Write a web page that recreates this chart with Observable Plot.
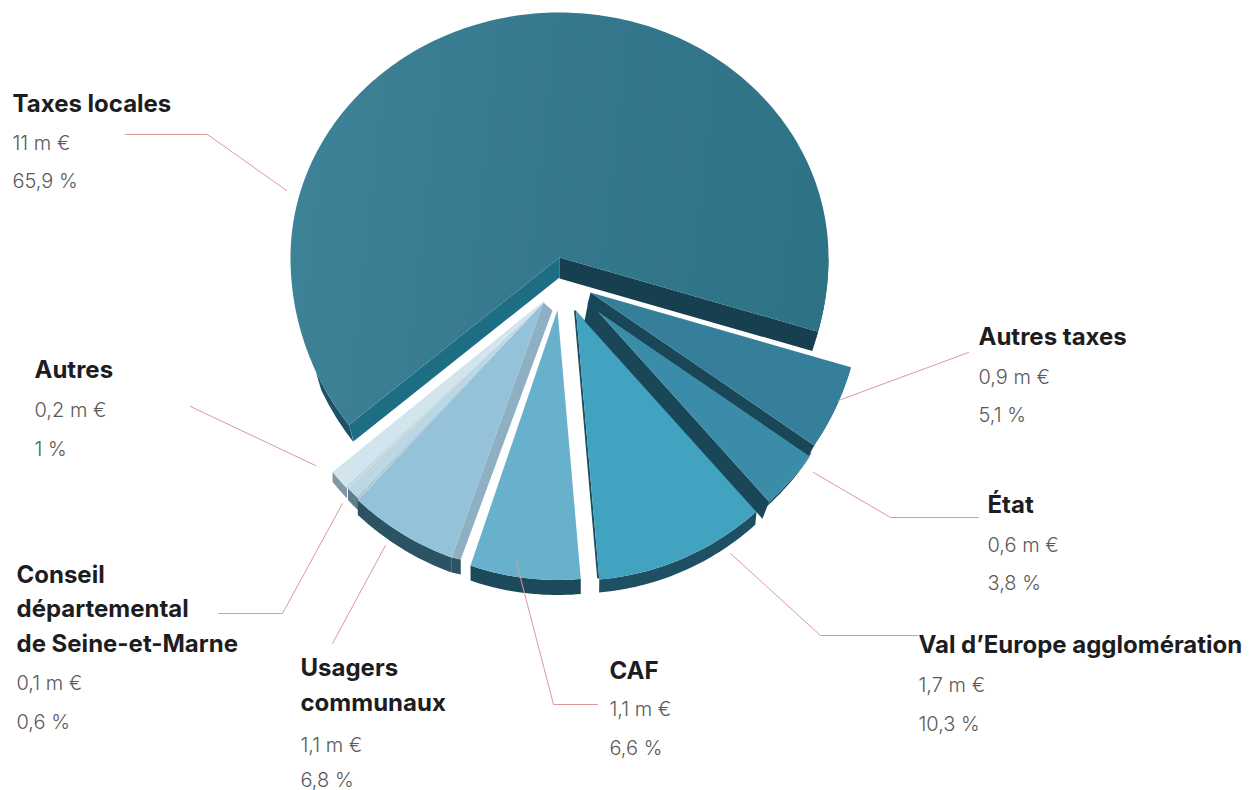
<!DOCTYPE html>
<html lang="fr">
<head>
<meta charset="utf-8">
<script src="https://cdn.jsdelivr.net/npm/d3@7"></script>
<script src="https://cdn.jsdelivr.net/npm/@observablehq/plot@0.6"></script>
<style>
html,body{margin:0;padding:0;background:#fff}
svg{display:block}
</style>
</head>
<body>
<div id="chart"></div>
<script>
// ---- data ----
const names   = ["Taxes locales","Autres taxes","État","Val d’Europe agglomération","CAF","Usagers communaux","Conseil départemental de Seine-et-Marne","Autres"];
const shares  = [65.9,5.1,3.8,10.3,6.6,6.8,0.6,1];
const amounts = ["11 m €","0,9 m €","0,6 m €","1,7 m €","1,1 m €","1,1 m €","0,1 m €","0,2 m €"];
const percents= ["65,9 %","5,1 %","3,8 %","10,3 %","6,6 %","6,8 %","0,6 %","1 %"];
const nameLines = [["Taxes locales"],["Autres taxes"],["État"],["Val d’Europe agglomération"],["CAF"],["Usagers","communaux"],["Conseil","départemental","de Seine-et-Marne"],["Autres"]];

// ---- layout and style, kept apart from the values ----
const rad = d => d * Math.PI / 180;
const pieStart = 139;
const slices = [
  {cx:559,cy:257,r:269,rTop:245,da0:2.5,da1:0,top:"url(#mainGrad)",outer:"#1b5265",depth:21,shrink:6,rimFrom:155,
   edges:[{side:0,fill:"#1d6e85",dx:0,dy:20},{side:1,fill:"#173f4f",dx:0,dy:21}]},
  {cx:590,cy:292,r:271,rTop:271,da0:0,da1:0,top:"#357f9b",outer:"#28627a",depth:5,shrink:3,
   edges:[{side:1,fill:"#1a4757",dx:-3,dy:12}]},
  {cx:588,cy:300.5,r:270,rTop:270,da0:0,da1:0,top:"#3a8ca9",outer:"#1f5064",depth:8,shrink:4,
   edges:[{side:1,fill:"#1a4757",dx:-4,dy:20}]},
  {cx:575.5,cy:310,r:270,rTop:270,da0:0,da1:0,top:"#42a3c1",outer:"#1f4f62",depth:15,shrink:2,
   edges:[{side:1,fill:"#1d4d60",dx:-2,dy:0}]},
  {cx:557,cy:309.5,r:270,rTop:270,da0:0,da1:0,top:"#67b1cd",outer:"#1d4a5b",depth:15,shrink:0,edges:[]},
  {cx:543,cy:302,r:271,rTop:271,da0:1,da1:0,top:"#94c2d9",outer:"#2b5364",depth:15,shrink:0,edges:[],
   quad:{fill:"#8fafc3",apexDx:9,apexDy:8,outerDx:9,outerDy:2}},
  {cx:544.5,cy:300,r:272,rTop:272,da0:0,da1:1,top:"#bcd7e4",outer:"#5f7d8b",depth:12,shrink:0,edges:[],band:{deg:0.5,fill:"#a9c7d6"}},
  {cx:545,cy:299,r:274,rTop:274,da0:1,da1:2,top:"#d2e4ec",outer:"#8098a4",depth:10,shrink:0,edges:[],band:{deg:0.4,fill:"#b7d0dc"}}
];
// drawing order: main, then lit left wedges, then the right wedges back to front
const drawOrder = [0,7,6,5,4,3,2,1];

const labelPlaces = [
  {x:12,  y:[111],          ya:149, yp:187},
  {x:978, y:[344],          ya:383, yp:421},
  {x:987, y:[512],          ya:551, yp:589},
  {x:918, y:[652],          ya:691, yp:730},
  {x:609, y:[678],          ya:715, yp:754},
  {x:300, y:[675,710],      ya:751, yp:786},
  {x:16,  y:[582,616,651],  ya:689, yp:728},
  {x:34,  y:[377],          ya:416, yp:455}
];
const leaders = [
  [[125,134],[207,134],[286,190]],
  [[838,400],[968,352]],
  [[813,472],[890,517],[978,517]],
  [[730,553],[820,635],[917,635]],
  [[516,562],[553,704],[597,704]],
  [[385,545],[332,643]],
  [[342,503],[282,613],[218,613]],
  [[190,406],[315,465]]
];

// ---- geometry from the shares ----
const arcs = d3.pie().sort(null).value(d => d)
  .startAngle(rad(pieStart)).endAngle(rad(pieStart + 360))(shares);

const rows = [];
function add(id, fill, pts){ pts.forEach(([x,y]) => rows.push({id, fill, x, y})); }

function point(s, a, down = 0, shrink = 0, dx = 0){
  const c = Math.cos(a), n = Math.sin(a);
  const ry = n < 0 ? s.rTop : s.r;
  return [s.cx + dx + (s.r - shrink) * c, s.cy + down + (ry - shrink) * n];
}
function arcPts(s, a0, a1, down = 0, shrink = 0){
  const k = Math.max(2, Math.ceil(Math.abs(a1 - a0) / rad(1)));
  return d3.range(k + 1).map(i => point(s, a0 + (a1 - a0) * i / k, down, shrink));
}
drawOrder.forEach(i => {
  const s = slices[i];
  const a0 = arcs[i].startAngle + rad(s.da0), a1 = arcs[i].endAngle + rad(s.da1);
  const id = names[i];
  // outer rim: only the parts of the arc facing the viewer
  const lim = [];
  for (let t = 0; t <= 4 * Math.PI; t += 2 * Math.PI){
    const lo = Math.max(a0, t), hi = Math.min(a1, t + (t === 0 && s.rimFrom ? rad(s.rimFrom) : Math.PI));
    if (hi > lo) lim.push([lo, hi]);
  }
  lim.forEach(([lo, hi], j) => {
    add(`${id} rim ${j}`, s.outer, [...arcPts(s, lo, hi), ...arcPts(s, hi, lo, s.depth, s.shrink)]);
  });
  // radial walls
  s.edges.forEach(e => {
    const a = e.side ? a1 : a0;
    add(`${id} edge ${e.side}`, e.fill, [
      [s.cx, s.cy], point(s, a),
      point(s, a, e.dy, s.shrink, e.dx), [s.cx + e.dx, s.cy + e.dy]
    ]);
  });
  // top face
  let faceStart = a0;
  if (s.band){
    add(`${id} band`, s.band.fill, [[s.cx, s.cy], ...arcPts(s, a0, a0 + rad(s.band.deg))]);
    faceStart = a0 + rad(s.band.deg);
  }
  if (s.quad){
    const q = s.quad, [ox, oy] = point(s, a0);
    add(`${id} quad rim`, s.outer, [[ox, oy], [ox + q.outerDx, oy + q.outerDy], [ox + q.outerDx, oy + q.outerDy + s.depth], [ox, oy + s.depth]]);
    add(`${id} quad`, q.fill, [[s.cx, s.cy], [s.cx + q.apexDx, s.cy + q.apexDy], [ox + q.outerDx, oy + q.outerDy], [ox, oy]]);
  }
  add(`${id} top`, s.top, [[s.cx, s.cy], ...arcPts(s, faceStart, a1)]);
});

const leaderRows = leaders.flatMap((l, i) => l.map(([x, y]) => ({id: names[i], x, y})));
const boldRows = nameLines.flatMap((ls, i) => ls.map((t, j) => ({t, x: labelPlaces[i].x, y: labelPlaces[i].y[j]})));
const thinRows = names.flatMap((_, i) => [
  {t: amounts[i],  x: labelPlaces[i].x, y: labelPlaces[i].ya},
  {t: percents[i], x: labelPlaces[i].x, y: labelPlaces[i].yp}
]);

const defs = () => {
  const d = d3.create("svg:defs");
  const g = d.append("linearGradient").attr("id", "mainGrad")
    .attr("gradientUnits", "userSpaceOnUse")
    .attr("x1", 290).attr("y1", 200).attr("x2", 830).attr("y2", 260);
  g.append("stop").attr("offset", 0).attr("stop-color", "#3e8298");
  g.append("stop").attr("offset", 0.5).attr("stop-color", "#35788d");
  g.append("stop").attr("offset", 1).attr("stop-color", "#2e7286");
  return d.node();
};

const chart = Plot.plot({
  width: 1256, height: 790,
  marginTop: 0, marginRight: 0, marginBottom: 0, marginLeft: 0,
  x: {domain: [0, 1256], range: [0, 1256], axis: null},
  y: {domain: [0, 790], range: [0, 790], axis: null},
  color: {type: "identity"},
  style: {background: "#fff", fontFamily: "Inter, sans-serif"},
  marks: [
    defs,
    Plot.line(rows, {x: "x", y: "y", z: "id", fill: "fill", stroke: "none"}),
    Plot.line(leaderRows, {x: "x", y: "y", z: "id", stroke: "#dc9a9c", strokeWidth: 1, curve: "linear"}),
    Plot.text(boldRows, {x: "x", y: "y", text: "t", textAnchor: "start", lineAnchor: "bottom", fontFamily: "Inter, sans-serif",
      fontWeight: 700, fontSize: 24, fill: "#1d1d1f"}),
    Plot.text(thinRows, {x: "x", y: "y", text: "t", textAnchor: "start", lineAnchor: "bottom", fontFamily: "Inter, sans-serif",
      fontWeight: 300, fontSize: 20, fill: "#5a5a5a"})
  ]
});
document.getElementById("chart").append(chart);
</script>
</body>
</html>
